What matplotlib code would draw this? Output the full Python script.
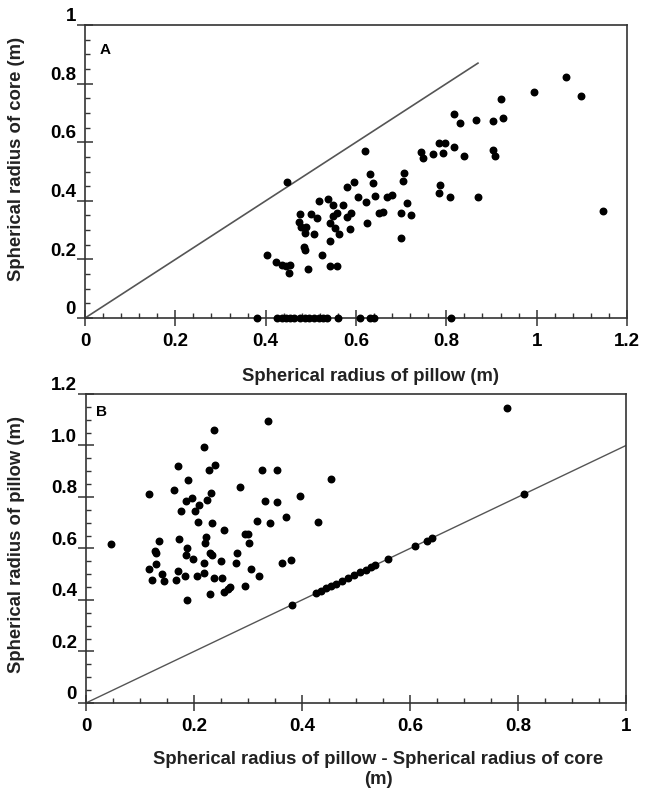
#! /usr/bin/env python3

import matplotlib.pyplot as plt
from matplotlib import font_manager
from matplotlib.ticker import FixedLocator, FixedFormatter, MultipleLocator

# panel A: spherical radius of pillow vs spherical radius of core (m)
pillow_a = [1.064, 0.994, 1.099, 0.921, 0.816, 0.830, 0.866, 0.903, 0.925, 0.784,
            0.796, 0.818, 0.792, 0.771, 0.745, 0.748, 0.839, 0.903, 0.908, 0.620,
            0.630, 0.638, 0.580, 0.595, 0.706, 0.703, 0.447, 0.786, 0.783, 0.807,
            0.870, 0.518, 0.539, 0.548, 0.604, 0.622, 0.643, 0.668, 0.679, 0.712,
            0.700, 0.721, 1.146, 0.477, 0.501, 0.513, 0.474, 0.479, 0.490, 0.487,
            0.506, 0.542, 0.548, 0.559, 0.554, 0.563, 0.542, 0.572, 0.581, 0.590,
            0.586, 0.625, 0.650, 0.659, 0.700, 0.484, 0.486, 0.525, 0.402, 0.422,
            0.436, 0.444, 0.453, 0.451, 0.493, 0.542, 0.557]
core_a = [0.824, 0.771, 0.758, 0.747, 0.696, 0.664, 0.676, 0.673, 0.684, 0.598,
          0.598, 0.585, 0.564, 0.559, 0.568, 0.545, 0.553, 0.573, 0.554, 0.571,
          0.491, 0.462, 0.448, 0.464, 0.496, 0.468, 0.465, 0.454, 0.428, 0.412,
          0.414, 0.400, 0.408, 0.386, 0.414, 0.397, 0.416, 0.414, 0.420, 0.391,
          0.359, 0.352, 0.366, 0.354, 0.355, 0.340, 0.329, 0.312, 0.310, 0.289,
          0.286, 0.323, 0.349, 0.357, 0.306, 0.287, 0.264, 0.386, 0.344, 0.357,
          0.303, 0.323, 0.357, 0.363, 0.272, 0.243, 0.232, 0.215, 0.215, 0.192,
          0.181, 0.179, 0.181, 0.155, 0.167, 0.177, 0.177]

# pillows without a core (core radius = 0)
pillow_no_core = [0.381, 0.426, 0.436, 0.445, 0.454, 0.463, 0.475, 0.486, 0.497,
                  0.508, 0.518, 0.527, 0.536, 0.560, 0.609, 0.631, 0.640, 0.811]

# panel B: pillow - core vs pillow (m)
diff_b = [0.779, 0.337, 0.237, 0.219, 0.170, 0.239, 0.227, 0.326, 0.353, 0.189,
          0.454, 0.116, 0.163, 0.231, 0.285, 0.397, 0.196, 0.186, 0.225, 0.210,
          0.331, 0.353, 0.176, 0.202, 0.208, 0.233, 0.317, 0.340, 0.370, 0.430,
          0.256, 0.295, 0.300, 0.302, 0.223, 0.221, 0.172, 0.046, 0.136, 0.187,
          0.127, 0.130, 0.185, 0.198, 0.229, 0.234, 0.218, 0.250, 0.280, 0.277,
          0.363, 0.380, 0.130, 0.116, 0.170, 0.305, 0.141, 0.122, 0.144, 0.166,
          0.183, 0.187, 0.206, 0.219, 0.237, 0.229, 0.252, 0.256, 0.263, 0.267,
          0.294, 0.321]
pillow_b = [1.147, 1.097, 1.061, 0.994, 0.919, 0.925, 0.903, 0.903, 0.906, 0.866,
            0.868, 0.812, 0.829, 0.816, 0.838, 0.805, 0.796, 0.783, 0.790, 0.770,
            0.786, 0.782, 0.744, 0.747, 0.704, 0.699, 0.708, 0.699, 0.721, 0.701,
            0.673, 0.658, 0.658, 0.623, 0.643, 0.621, 0.636, 0.617, 0.630, 0.601,
            0.591, 0.582, 0.574, 0.558, 0.582, 0.575, 0.545, 0.552, 0.584, 0.542,
            0.542, 0.555, 0.539, 0.519, 0.513, 0.522, 0.500, 0.476, 0.472, 0.479,
            0.493, 0.401, 0.493, 0.506, 0.485, 0.423, 0.485, 0.432, 0.443, 0.450,
            0.453, 0.493]

# 1:1 reference lines
line_a = [0, 0.87]
line_b = [0, 1.0]

xticks_a = [0, 0.2, 0.4, 0.6, 0.8, 1.0, 1.2]
xlabels_a = ["0", "0.2", "0.4", "0.6", "0.8", "1", "1.2"]
yticks_a = [0, 0.2, 0.4, 0.6, 0.8, 1.0]
ylabels_a = ["0", "0.2", "0.4", "0.6", "0.8", "1"]
xticks_b = [0, 0.2, 0.4, 0.6, 0.8, 1.0]
xlabels_b = ["0", "0.2", "0.4", "0.6", "0.8", "1"]
yticks_b = [0, 0.2, 0.4, 0.6, 0.8, 1.0, 1.2]
ylabels_b = ["0", "0.2", "0.4", "0.6", "0.8", "1.0", "1.2"]

# pick a narrow sans if it is there
names = {f.name for f in font_manager.fontManager.ttflist}
tick_font = "Liberation Sans Narrow" if "Liberation Sans Narrow" in names else "Liberation Sans"
plt.rcParams['font.family'] = ['Liberation Sans', 'DejaVu Sans']

SPINE = "#333333"


def style_axes(ax, xticks, xlabels, yticks, ylabels, xminor, yminor):
    ax.set_xlim(xticks[0], xticks[-1])
    ax.set_ylim(yticks[0], yticks[-1])
    for s in ax.spines.values():
        s.set_color(SPINE)
        s.set_linewidth(1.2)
    ax.xaxis.set_major_locator(FixedLocator(xticks))
    ax.xaxis.set_major_formatter(FixedFormatter(xlabels))
    ax.yaxis.set_major_locator(FixedLocator(yticks))
    ax.xaxis.set_minor_locator(MultipleLocator(xminor))
    ax.yaxis.set_minor_locator(MultipleLocator(yminor))
    ax.tick_params(which="major", direction="inout", length=11, width=1.1,
                   color=SPINE)
    ax.tick_params(which="minor", direction="in", length=3.6, width=1.0,
                   color=SPINE)
    ax.tick_params(axis="x", which="major", pad=5)
    ax.tick_params(axis="y", which="major", labelleft=False)
    for lab in ax.get_xticklabels():
        lab.set_fontfamily(tick_font)
        lab.set_fontweight("bold")
        lab.set_fontsize(13.5)
    # y tick labels sit a little above their ticks in the original
    for v, lab in zip(yticks, ylabels):
        ax.annotate(lab, xy=(0, v), xycoords=("axes fraction", "data"),
                    xytext=(-6.5, 6), textcoords="offset points",
                    ha="right", va="center", fontsize=13.5, fontweight="bold",
                    family=tick_font, annotation_clip=False)


fig = plt.figure(figsize=(6.45, 7.88), dpi=100)
ax_a = fig.add_axes([0.1318, 0.5964, 0.8403, 0.3718])
ax_b = fig.add_axes([0.1333, 0.1079, 0.8372, 0.3921])

# panel A
ax_a.plot(line_a, line_a, color="#555555", lw=1.2, zorder=2)
ax_a.scatter(pillow_a, core_a, s=22, color="black", zorder=3, clip_on=False)
ax_a.scatter(pillow_no_core, [0] * len(pillow_no_core), s=22, color="black",
             zorder=3, clip_on=False)
style_axes(ax_a, xticks_a, xlabels_a, yticks_a, ylabels_a, 0.04, 0.05)
ax_a.text(0.037, 0.915, "A", transform=ax_a.transAxes, fontsize=11,
          fontweight="bold", ha="center", va="center")

# panel B
ax_b.plot(line_b, line_b, color="#555555", lw=1.0, zorder=2)
ax_b.scatter(diff_b, pillow_b, s=22, color="black", zorder=3, clip_on=False)
ax_b.scatter(pillow_no_core, pillow_no_core, s=22, color="black", zorder=3)
style_axes(ax_b, xticks_b, xlabels_b, yticks_b, ylabels_b, 0.05, 0.05)
ax_b.text(0.028, 0.942, "B", transform=ax_b.transAxes, fontsize=11,
          fontweight="bold", ha="center", va="center")

# axis titles
lab_kw = dict(fontsize=13.3, fontweight="bold", color="#222222")
fig.text(0.026, 0.798, "Spherical radius of core (m)", rotation=90,
         ha="center", va="center", **lab_kw)
fig.text(0.575, 0.5216, "Spherical radius of pillow (m)",
         ha="center", va="center", **lab_kw)
fig.text(0.026, 0.3084, "Spherical radius of pillow (m)", rotation=90,
         ha="center", va="center", **lab_kw)
fig.text(0.586, 0.0235, "Spherical radius of pillow - Spherical radius of core\n(m)",
         ha="center", va="center", linespacing=1.2, **lab_kw)

fig.savefig("out.png", dpi=100)
plt.close(fig)
